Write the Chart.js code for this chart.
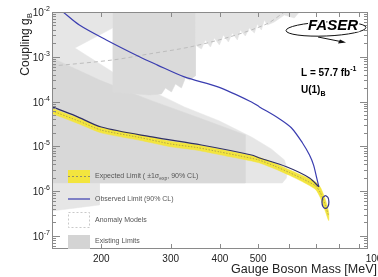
<!DOCTYPE html>
<html>
<head>
<meta charset="utf-8">
<script src="https://cdn.jsdelivr.net/npm/chart.js@4/dist/chart.umd.min.js"></script>
<style>
  html, body { margin: 0; padding: 0; background: #fff; }
  canvas { display: block; }
</style>
</head>
<body>
<canvas id="faserChart" width="378" height="277"></canvas>
<script>
// axis ticks
const massTicks = [200, 300, 400, 500, 1000];
const decadeExps = [-2, -3, -4, -5, -6, -7];

// observed limit (closed contour: upper branch, then lower branch back)
const obsUpperMass = [150, 160, 176, 206, 250, 277, 325, 397, 481, 504, 567, 607, 648, 675, 691, 704, 713];
const obsUpperCoupling = [1.55e-2, 1.0e-2, 5.1e-3, 2.37e-3, 1.0e-3, 6.6e-4, 3.55e-4, 2.1e-4, 9.8e-5, 7.6e-5, 4.1e-5, 2.6e-5, 1.19e-5, 6.4e-6, 3.85e-6, 1.97e-6, 1.24e-6];
const obsLowerMass = [713, 675, 590, 504, 481, 359, 269, 200, 172, 150];
const obsLowerCoupling = [1.24e-6, 1.97e-6, 3.5e-6, 5.5e-6, 6.4e-6, 1.07e-5, 1.62e-5, 2.7e-5, 4.8e-5, 7.6e-5];

// small observed island
const islandMass = [741, 752, 756, 752, 741, 730, 726, 730, 741];
const islandCoupling = [8.0e-7, 7.2e-7, 5.7e-7, 4.55e-7, 4.1e-7, 4.55e-7, 5.7e-7, 7.2e-7, 8.0e-7];

// expected limit and its +-1 sigma band
const expMass = [150, 175, 200, 250, 300, 350, 400, 450, 500, 550, 600, 650, 700, 720, 740, 755];
const expCoupling = [6.2e-5, 3.7e-5, 2.3e-5, 1.58e-5, 1.13e-5, 9.4e-6, 7.5e-6, 6.1e-6, 5.0e-6, 3.65e-6, 2.6e-6, 1.87e-6, 1.3e-6, 9.1e-7, 4.9e-7, 2.8e-7];
const expUpper = [7.1e-5, 4.25e-5, 2.65e-5, 1.82e-5, 1.3e-5, 1.08e-5, 8.6e-6, 7.0e-6, 5.75e-6, 4.2e-6, 3.0e-6, 2.2e-6, 1.6e-6, 1.2e-6, 6.6e-7, 3.4e-7];
const expLower = [5.4e-5, 3.2e-5, 2.0e-5, 1.37e-5, 9.8e-6, 8.2e-6, 6.5e-6, 5.3e-6, 4.35e-6, 3.17e-6, 2.26e-6, 1.6e-6, 1.08e-6, 7.0e-7, 3.6e-7, 2.2e-7];

// existing limits (grey regions)
const lightMass = [150, 213.7, 213.7, 171.5, 213.7, 265, 325, 399, 481, 540, 583, 593, 590, 576, 198, 198, 150];
const lightCoupling = [1e-2, 1e-2, 4.39e-3, 1.57e-3, 4.58e-4, 1.82e-4, 7.6e-5, 3.69e-5, 1.62e-5, 8.75e-6, 4.97e-6, 2.97e-6, 1.97e-6, 1.52e-6, 1.52e-6, 4.92e-7, 3.61e-7];
const midMass = [150, 198, 265, 355, 464, 464, 150];
const midCoupling = [9.4e-4, 3.03e-4, 1.09e-4, 4.3e-5, 1.8e-5, 1.52e-6, 1.52e-6];
const rectMass = [213.7, 346.6, 346.6, 334.7, 327, 319.5, 308.5, 301.4, 291, 284.3, 265.1, 213.7];
const rectCoupling = [1e-2, 1e-2, 3.73e-4, 3.03e-4, 3.37e-4, 2.01e-4, 2.47e-4, 1.64e-4, 2.01e-4, 1.48e-4, 1.40e-4, 1.64e-4];
const spikeMass = [346.6, 636, 617.7, 582.8, 549.6, 527.6, 518.5, 509.5, 497.7, 489.1, 475, 464, 450.7, 442.9, 430.2, 420.3, 408.2, 398.8, 387.3, 378.4, 367.5, 359, 346.6];
const spikeCoupling = [1e-2, 1e-2, 7.34e-3, 8.57e-3, 5.98e-3, 5.13e-3, 6.6e-3, 3.96e-3, 5.4e-3, 3.4e-3, 4.39e-3, 2.91e-3, 3.96e-3, 2.37e-3, 3.4e-3, 2.14e-3, 3.07e-3, 1.83e-3, 2.63e-3, 1.65e-3, 2.37e-3, 1.49e-3, 1.83e-3];

// anomaly model curve
const anomalyMass = [150, 214, 265, 335, 423, 525, 583];
const anomalyCoupling = [6.2e-4, 8.5e-4, 1.16e-3, 1.65e-3, 2.77e-3, 5.4e-3, 1e-2];

const FONT = '"Liberation Sans", Arial, sans-serif';
const BLUE = '#3a3db0';
const YELLOW = '#f3e53e';

function pts(xs, ys) {
  return xs.map((x, i) => ({ x: x, y: ys[i] }));
}

function area(xs, ys, color, order) {
  return {
    data: pts(xs, ys), showLine: true, fill: 'shape',
    backgroundColor: color, borderColor: color, borderWidth: 0.5,
    pointRadius: 0, order: order
  };
}

const bandPoly = pts(expMass.concat(expMass.slice().reverse()),
                     expUpper.concat(expLower.slice().reverse()));

// axes frame, ticks, texts and legend
const decorations = {
  id: 'decorations',
  beforeDraw(chart) {
    const c = chart.ctx;
    c.save();
    c.fillStyle = '#fff';
    c.fillRect(0, 0, chart.width, chart.height);
    c.restore();
  },
  afterDatasetsDraw(chart) {
    const c = chart.ctx;
    const a = chart.chartArea;
    const xs = chart.scales.x, ys = chart.scales.y;
    c.save();

    // frame
    c.strokeStyle = '#8a8a8a';
    c.lineWidth = 1;
    c.strokeRect(a.left + 0.5, a.top + 0.5, a.right - a.left - 1, a.bottom - a.top - 1);

    // y ticks (inward, both sides)
    c.beginPath();
    for (let k = -8; k <= -2; k++) {
      for (let m = 1; m <= 9; m++) {
        const v = m * Math.pow(10, k);
        if (v < ys.min || v > ys.max) continue;
        const y = Math.round(ys.getPixelForValue(v)) + 0.5;
        const len = m === 1 ? 8 : 4;
        c.moveTo(a.left, y); c.lineTo(a.left + len, y);
        c.moveTo(a.right, y); c.lineTo(a.right - len, y);
      }
    }
    // x ticks
    for (let m = 200; m <= 900; m += 100) {
      const x = Math.round(xs.getPixelForValue(m)) + 0.5;
      c.moveTo(x, a.bottom); c.lineTo(x, a.bottom - 5);
      c.moveTo(x, a.top); c.lineTo(x, a.top + 5);
    }
    c.stroke();

    // y tick labels 10^k
    c.fillStyle = '#222';
    c.textBaseline = 'alphabetic';
    c.textAlign = 'left';
    decadeExps.forEach(k => {
      const y = ys.getPixelForValue(Math.pow(10, k));
      const ex = '-' + Math.abs(k);
      c.font = '7px ' + FONT;
      const we = c.measureText(ex).width;
      c.font = '10px ' + FONT;
      const wb = c.measureText('10').width;
      c.fillText('10', 50 - we - wb, y + 4);
      c.font = '7px ' + FONT;
      c.fillText(ex, 50 - we, y - 1);
    });

    // x tick labels
    c.font = '10px ' + FONT;
    c.textAlign = 'center';
    massTicks.forEach(m => {
      c.fillText(String(m), xs.getPixelForValue(m), 262);
    });

    // axis titles
    c.font = '12.5px ' + FONT;
    c.textAlign = 'right';
    c.fillText('Gauge Boson Mass [MeV]', 377, 273);

    c.save();
    c.font = '12px ' + FONT;
    const w1 = c.measureText('Coupling g').width;
    c.font = '8px ' + FONT;
    const w2 = c.measureText('B').width;
    c.translate(29, 12 + w1 + w2 + 1);
    c.rotate(-Math.PI / 2);
    c.textAlign = 'left';
    c.font = '12px ' + FONT;
    c.fillText('Coupling g', 0, 0);
    c.font = '8px ' + FONT;
    c.fillText('B', w1, 3);
    c.restore();

    // legend
    const lx = 68, lw = 22, tx = 95;
    c.fillStyle = YELLOW;
    c.fillRect(lx, 170, lw, 13);
    c.strokeStyle = '#777';
    c.lineWidth = 0.8;
    c.setLineDash([2, 2]);
    c.beginPath(); c.moveTo(lx, 176.5); c.lineTo(lx + lw, 176.5); c.stroke();
    c.setLineDash([]);
    c.strokeStyle = BLUE;
    c.lineWidth = 1.2;
    c.beginPath(); c.moveTo(lx, 199); c.lineTo(lx + lw, 199); c.stroke();
    c.fillStyle = '#fff';
    c.fillRect(lx, 212, lw, 16);
    c.strokeStyle = '#bbb';
    c.lineWidth = 0.8;
    c.setLineDash([2, 2]);
    c.strokeRect(lx + 0.5, 212.5, lw - 1, 15);
    c.setLineDash([]);
    c.fillStyle = '#d4d4d4';
    c.fillRect(lx, 235, lw, 14);

    c.fillStyle = '#555';
    c.textAlign = 'left';
    c.textBaseline = 'middle';
    c.font = '7px ' + FONT;
    let px = tx;
    const part1 = 'Expected Limit ( \u00b11\u03c3';
    c.fillText(part1, px, 176.5);
    px += c.measureText(part1).width;
    c.font = '5px ' + FONT;
    c.fillText('exp', px, 179);
    px += c.measureText('exp').width;
    c.font = '7px ' + FONT;
    c.fillText(', 90% CL)', px, 176.5);
    c.fillText('Observed Limit (90% CL)', tx, 199);
    c.fillText('Anomaly Models', tx, 220);
    c.fillText('Existing Limits', tx, 241.5);

    // FASER logo
    c.strokeStyle = '#111';
    c.lineWidth = 1;
    c.beginPath();
    c.ellipse(326, 29, 40, 7, -0.04, 0, Math.PI * 2);
    c.stroke();
    c.beginPath();
    c.moveTo(318, 37); c.lineTo(343, 42);
    c.stroke();
    c.beginPath();
    c.moveTo(346, 42.6); c.lineTo(338, 43.5); c.lineTo(340, 39.5); c.closePath();
    c.fillStyle = '#111';
    c.fill();
    c.font = 'italic bold 15px ' + FONT;
    c.textAlign = 'center';
    c.textBaseline = 'middle';
    c.lineWidth = 3;
    c.strokeStyle = '#fff';
    c.strokeText('FASER', 333, 26);
    c.fillStyle = '#000';
    c.fillText('FASER', 333, 26);

    // luminosity and model labels
    c.textAlign = 'left';
    c.textBaseline = 'alphabetic';
    c.font = 'bold 10px ' + FONT;
    const lt = 'L = 57.7 fb';
    c.fillText(lt, 301, 76);
    const lw2 = c.measureText(lt).width;
    c.font = 'bold 7px ' + FONT;
    c.fillText('-1', 301 + lw2, 71);
    c.font = 'bold 10px ' + FONT;
    c.fillText('U(1)', 301, 93);
    const uw = c.measureText('U(1)').width;
    c.font = 'bold 7px ' + FONT;
    c.fillText('B', 301 + uw, 96);

    c.restore();
  }
};

const ctx = document.getElementById('faserChart').getContext('2d');
new Chart(ctx, {
  type: 'scatter',
  data: {
    datasets: [
      area(lightMass, lightCoupling, '#e6e6e6', 10),
      area(midMass, midCoupling, '#d8d8d8', 9),
      area(rectMass, rectCoupling, '#dadada', 8),
      area(spikeMass, spikeCoupling, '#e3e3e3', 7),
      {
        data: pts(anomalyMass, anomalyCoupling), showLine: true,
        borderColor: '#bdbdbd', borderWidth: 1, borderDash: [4, 3],
        pointRadius: 0, tension: 0.3, order: 6
      },
      {
        data: bandPoly, showLine: true, fill: 'shape',
        backgroundColor: YELLOW, borderColor: YELLOW, borderWidth: 0.5,
        pointRadius: 0, tension: 0.2, order: 5
      },
      {
        data: pts(expMass, expCoupling), showLine: true,
        borderColor: '#8a8050', borderWidth: 0.6, borderDash: [1.5, 1.5],
        pointRadius: 0, tension: 0.2, order: 4
      },
      {
        data: pts(obsUpperMass, obsUpperCoupling), showLine: true,
        borderColor: BLUE, borderWidth: 1.2, pointRadius: 0, tension: 0.3, order: 3
      },
      {
        data: pts(obsLowerMass, obsLowerCoupling), showLine: true,
        borderColor: '#2f2f66', borderWidth: 1.2, pointRadius: 0, tension: 0.3, order: 2
      },
      {
        data: pts(islandMass, islandCoupling), showLine: true,
        borderColor: '#34348a', borderWidth: 1.2, pointRadius: 0, tension: 0.4, order: 1
      }
    ]
  },
  options: {
    responsive: false,
    animation: false,
    devicePixelRatio: 1,
    layout: { padding: { top: 12, right: 10, left: 0, bottom: 0 } },
    plugins: { legend: { display: false }, tooltip: { enabled: false } },
    scales: {
      x: {
        type: 'logarithmic', min: 150, max: 950,
        grid: { display: false }, border: { display: false },
        ticks: { display: false },
        afterFit: s => { s.height = 28; }
      },
      y: {
        type: 'logarithmic', min: 5.1e-8, max: 1e-2,
        grid: { display: false }, border: { display: false },
        ticks: { display: false },
        afterFit: s => { s.width = 52; }
      }
    }
  },
  plugins: [decorations]
});
</script>
</body>
</html>
